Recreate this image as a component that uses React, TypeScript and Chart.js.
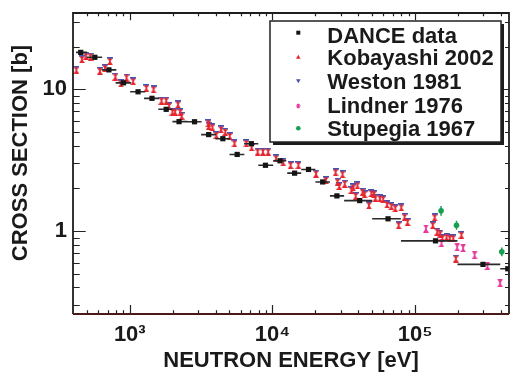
import React, { useEffect, useRef } from 'react';
import { Chart, registerables } from 'chart.js';

Chart.register(...registerables);

const FONT = "'Liberation Sans', Arial, Helvetica, sans-serif";

// axis ranges and ticks
const X_MIN = 400;
const X_MAX = 455000;
const Y_MIN = 0.26;
const Y_MAX = 34.5;
const X_TICK_VALUES = [1000, 10000, 100000];
const X_TICK_LABELS = ['10³', '10⁴', '10⁵'];
const Y_TICK_VALUES = [1, 10];
const Y_TICK_LABELS = ['1', '10'];
const X_TITLE = 'NEUTRON ENERGY [eV]';
const Y_TITLE = 'CROSS SECTION [b]';
const LEGEND_LABELS = ['DANCE data', 'Kobayashi 2002', 'Weston 1981', 'Lindner 1976', 'Stupegia 1967'];

// DANCE data (energy in eV, cross section in b, energy bin edges)
const DANCE_E = [453, 569, 714, 904, 1143, 1431, 1800, 2215, 2844, 3573, 4493, 5661, 7112, 8935, 11300, 14300, 17900, 22500, 28300, 40900, 64600, 139000, 299000, 446000];
const DANCE_XS = [18.2, 16.8, 13.7, 11.1, 9.6, 8.63, 7.22, 5.91, 5.9, 4.79, 4.48, 3.47, 4.13, 2.91, 3.13, 2.56, 2.72, 2.22, 1.77, 1.64, 1.22, 0.853, 0.582, 0.542];
const DANCE_E_LO = [420, 502, 635, 796, 1006, 1259, 1585, 1991, 2529, 3162, 3981, 5000, 6324, 7958, 10120, 12700, 15900, 20000, 25300, 31800, 50000, 79600, 198000, 395000];
const DANCE_E_HI = [502, 640, 805, 1023, 1285, 1607, 1991, 2529, 3184, 4018, 5058, 6353, 7958, 10120, 12500, 15900, 20000, 25300, 31800, 50000, 79400, 198000, 395000, 560000];

// Kobayashi 2002
const KOBAYASHI_E = [422, 462, 494, 531, 617, 670, 726, 792, 866, 949, 1056, 1307, 1468, 1668, 1800, 1888, 1991, 2077, 2178, 2260, 2310, 3556, 3580, 3793, 4044, 4355, 4670, 5024, 5418, 6561, 7145, 7870, 8570, 9330, 10600, 11900, 13400, 15200, 20200, 23700, 27700, 28600, 29400, 31000, 32100, 35800, 36900, 38300, 39400, 42800, 44200, 47500, 49400, 51400, 52700, 56600, 59700, 63600, 68100, 72600, 76700, 80000, 84400, 88500, 133000, 137000, 143000, 150000, 155000, 166000, 175000, 185000, 193000, 211000];
const KOBAYASHI_XS = [13.7, 16.3, 17.2, 17.0, 13.5, 14.1, 15.8, 12.3, 11.0, 12.1, 11.4, 10.2, 10.0, 8.32, 8.32, 7.63, 6.95, 6.95, 7.83, 6.9, 6.5, 5.76, 5.53, 5.40, 4.76, 5.22, 5.02, 4.68, 4.16, 4.16, 3.90, 3.63, 3.63, 3.63, 3.26, 3.06, 2.92, 2.92, 2.54, 2.29, 2.60, 2.23, 2.08, 2.52, 2.16, 1.95, 2.03, 1.77, 2.10, 1.89, 1.82, 1.52, 1.85, 1.82, 1.72, 1.70, 1.68, 1.54, 1.50, 1.45, 1.10, 1.47, 1.26, 1.16, 1.10, 1.25, 0.99, 0.96, 0.89, 0.91, 0.89, 0.89, 0.64, 0.94];

// Weston 1981
const WESTON_E = [422, 462, 494, 531, 617, 670, 726, 792, 866, 949, 1056, 1307, 1468, 1668, 1800, 1888, 1991, 2077, 2178, 2260, 2310, 3556, 3580, 3793, 4044, 4355, 4670, 5024, 5418, 6561, 7145, 7870, 8570, 9330, 10600, 11900, 13400, 15200, 20200, 23700, 27700, 28600, 29400, 31000, 32100, 35800, 36900, 38300, 39400, 42800, 44200, 47500, 49400, 51400, 52700, 56600, 59700, 63600, 68100, 72600, 76700, 80000, 84400, 88500, 133000, 137000, 143000, 150000, 155000, 166000, 175000, 185000, 193000, 211000];
const WESTON_XS = [13.7, 16.3, 17.2, 17.0, 13.5, 14.1, 15.8, 12.3, 11.0, 12.1, 11.4, 10.2, 10.0, 8.32, 8.32, 7.63, 6.95, 6.95, 7.83, 6.9, 6.5, 5.76, 5.53, 5.40, 4.76, 5.22, 5.02, 4.68, 4.16, 4.16, 3.90, 3.63, 3.63, 3.63, 3.26, 3.06, 2.92, 2.92, 2.54, 2.29, 2.60, 2.23, 2.08, 2.52, 2.16, 1.95, 2.03, 1.77, 2.10, 1.89, 1.82, 1.52, 1.85, 1.82, 1.72, 1.70, 1.68, 1.54, 1.50, 1.45, 1.10, 1.47, 1.26, 1.16, 1.10, 1.25, 0.99, 0.96, 0.89, 0.91, 0.89, 0.89, 0.64, 0.94];

// Lindner 1976
const LINDNER_E = [119000, 153000, 197000, 217000, 261000, 321000, 394000];
const LINDNER_XS = [1.04, 0.82, 0.767, 0.756, 0.675, 0.566, 0.428];

// Stupegia 1967
const STUPEGIA_E = [152000, 195000, 405000];
const STUPEGIA_XS = [1.39, 1.10, 0.715];
const STUPEGIA_ERR = [0.11, 0.08, 0.05];

const RED = '#e6262e';
const BLUE = '#4452b4';
const PINK = '#e8379a';
const GREEN = '#14a050';
const BLACK = '#151515';

function makeMarker(kind: string): HTMLCanvasElement {
  const c = document.createElement('canvas');
  c.width = 6;
  c.height = 8;
  const g = c.getContext('2d') as CanvasRenderingContext2D;
  if (kind === 'weston') {
    g.fillStyle = BLUE;
    g.fillRect(0, 0, 6, 1.6);
    g.beginPath();
    g.moveTo(0, 0); g.lineTo(6, 0); g.lineTo(3, 3); g.closePath(); g.fill();
  } else {
    g.fillStyle = kind === 'kobayashi' ? RED : PINK;
    const top = kind === 'kobayashi' ? 1.4 : 0;
    g.beginPath();
    g.moveTo(0.3, top); g.lineTo(5.7, top); g.lineTo(3, 4.4); g.closePath(); g.fill();
    g.beginPath();
    g.moveTo(3, 3.6); g.lineTo(6, 8); g.lineTo(0, 8); g.closePath(); g.fill();
    g.fillRect(2.3, top, 1.4, 8 - top);
  }
  return c;
}

const decorPlugin = {
  id: 'decor',
  afterDatasetsDraw(chart: any) {
    const { ctx, chartArea: a, scales } = chart;
    const xs = scales.x;
    const ys = scales.y;
    ctx.save();
    ctx.strokeStyle = '#222';
    ctx.lineWidth = 1.2;
    ctx.beginPath();
    for (let d = 2; d <= 5; d++) {
      for (let m = 1; m <= 9; m++) {
        const v = m * Math.pow(10, d);
        if (v <= X_MIN || v >= X_MAX) continue;
        const px = Math.round(xs.getPixelForValue(v)) + 0.5;
        const major = m === 1;
        const lb = major ? 9 : 3.7;
        const lt = major ? 7.3 : 3.3;
        ctx.moveTo(px, a.bottom); ctx.lineTo(px, a.bottom - lb);
        ctx.moveTo(px, a.top); ctx.lineTo(px, a.top + lt);
      }
    }
    for (let d = -1; d <= 1; d++) {
      for (let m = 1; m <= 9; m++) {
        const v = m * Math.pow(10, d);
        if (v <= Y_MIN || v >= Y_MAX) continue;
        const py = Math.round(ys.getPixelForValue(v)) + 0.5;
        const major = m === 1;
        const ll = major ? 12.7 : 6.7;
        const lr = major ? 8.3 : 4;
        ctx.moveTo(a.left, py); ctx.lineTo(a.left + ll, py);
        ctx.moveTo(a.right, py); ctx.lineTo(a.right - lr, py);
      }
    }
    ctx.stroke();
    ctx.lineWidth = 1.8;
    ctx.strokeStyle = '#1e1e1e';
    ctx.beginPath();
    ctx.moveTo(a.left, a.bottom); ctx.lineTo(a.left, a.top); ctx.lineTo(a.right, a.top); ctx.lineTo(a.right, a.bottom);
    ctx.stroke();
    ctx.strokeStyle = '#4a1a1a';
    ctx.beginPath();
    ctx.moveTo(a.left, a.bottom); ctx.lineTo(a.right, a.bottom);
    ctx.stroke();
    ctx.restore();
  },
  afterDraw(chart: any) {
    const { ctx } = chart;
    ctx.save();
    // y-axis title
    ctx.translate(21, 153);
    ctx.rotate(-Math.PI / 2);
    ctx.font = `bold 22px ${FONT}`;
    ctx.fillStyle = '#1a1a1a';
    ctx.textAlign = 'center';
    ctx.textBaseline = 'middle';
    ctx.fillText(Y_TITLE, 0, 0);
    ctx.restore();

    // legend box
    ctx.save();
    const bx = 270, by = 21, bw = 231, bh = 121;
    ctx.fillStyle = '#1c1c1c';
    ctx.fillRect(bx + 3, by + 3, bw, bh);
    ctx.fillStyle = '#ffffff';
    ctx.fillRect(bx, by, bw, bh);
    ctx.strokeStyle = '#222';
    ctx.lineWidth = 1.5;
    ctx.strokeRect(bx, by, bw, bh);
    const mx = 298.3;
    const my = [32.7, 57.3, 80.7, 106, 128.3];
    const base = [42.5, 64.5, 89, 113, 136];
    // markers
    ctx.fillStyle = BLACK;
    ctx.fillRect(mx - 2, my[0] - 2, 4, 4);
    ctx.fillStyle = RED;
    ctx.beginPath();
    ctx.moveTo(mx, my[1] - 2.5); ctx.lineTo(mx + 2.3, my[1] + 1.5); ctx.lineTo(mx - 2.3, my[1] + 1.5); ctx.closePath(); ctx.fill();
    ctx.fillStyle = BLUE;
    ctx.beginPath();
    ctx.moveTo(mx, my[2] + 2.5); ctx.lineTo(mx + 2.3, my[2] - 1.5); ctx.lineTo(mx - 2.3, my[2] - 1.5); ctx.closePath(); ctx.fill();
    ctx.strokeStyle = PINK;
    ctx.lineWidth = 1.1;
    ctx.beginPath();
    for (let k = 0; k < 3; k++) {
      const ang = (k * Math.PI) / 3;
      ctx.moveTo(mx - 2.3 * Math.cos(ang), my[3] - 2.3 * Math.sin(ang));
      ctx.lineTo(mx + 2.3 * Math.cos(ang), my[3] + 2.3 * Math.sin(ang));
    }
    ctx.moveTo(mx, my[3] - 2.3); ctx.lineTo(mx, my[3] + 2.3);
    ctx.stroke();
    ctx.fillStyle = GREEN;
    ctx.beginPath();
    ctx.arc(mx, my[4], 2.3, 0, Math.PI * 2);
    ctx.fill();
    // labels
    ctx.font = `bold 22px ${FONT}`;
    ctx.fillStyle = '#1a1a1a';
    ctx.textAlign = 'left';
    ctx.textBaseline = 'alphabetic';
    LEGEND_LABELS.forEach((t, i) => ctx.fillText(t, 327.3, base[i]));
    ctx.restore();
  },
};

export default function App() {
  const ref = useRef<HTMLCanvasElement | null>(null);

  useEffect(() => {
    if (!ref.current) return;
    const kob = makeMarker('kobayashi');
    const wes = makeMarker('weston');
    const lin = makeMarker('lindner');

    const pts = (e: number[], y: number[]) => e.map((v, i) => ({ x: v, y: y[i] }));
    const danceBars: any[] = [];
    DANCE_E.forEach((_, i) => {
      danceBars.push({ x: DANCE_E_LO[i], y: DANCE_XS[i] }, { x: DANCE_E_HI[i], y: DANCE_XS[i] }, { x: DANCE_E_HI[i], y: null });
    });
    const stupBars: any[] = [];
    STUPEGIA_E.forEach((e, i) => {
      stupBars.push({ x: e, y: STUPEGIA_XS[i] - STUPEGIA_ERR[i] }, { x: e, y: STUPEGIA_XS[i] + STUPEGIA_ERR[i] }, { x: e, y: null });
    });

    const tickFont = { family: FONT, size: 22, weight: 'bold' as const };

    const chart = new Chart(ref.current, {
      type: 'scatter',
      data: {
        datasets: [
          { label: LEGEND_LABELS[0], data: pts(DANCE_E, DANCE_XS), pointStyle: 'rect', pointRadius: 3.7, backgroundColor: BLACK, borderColor: BLACK, borderWidth: 0 },
          { label: 'DANCE bins', data: danceBars, showLine: true, spanGaps: false, borderColor: '#2a2a2a', borderWidth: 1.6, pointRadius: 0 },
          { label: LEGEND_LABELS[1], data: pts(KOBAYASHI_E, KOBAYASHI_XS), pointStyle: kob, pointRadius: 4, backgroundColor: RED, borderColor: RED },
          { label: LEGEND_LABELS[2], data: pts(WESTON_E, WESTON_XS), pointStyle: wes, pointRadius: 4, backgroundColor: BLUE, borderColor: BLUE },
          { label: LEGEND_LABELS[3], data: pts(LINDNER_E, LINDNER_XS), pointStyle: lin, pointRadius: 4, backgroundColor: PINK, borderColor: PINK },
          { label: LEGEND_LABELS[4], data: pts(STUPEGIA_E, STUPEGIA_XS), pointStyle: 'circle', pointRadius: 2.8, backgroundColor: GREEN, borderColor: GREEN, borderWidth: 0 },
          { label: 'Stupegia err', data: stupBars, showLine: true, spanGaps: false, borderColor: GREEN, borderWidth: 1.5, pointRadius: 0 },
        ] as any,
      },
      options: {
        animation: false,
        responsive: false,
        devicePixelRatio: 1,
        events: [],
        layout: { padding: { top: 13, right: 1, left: 0, bottom: 0 } },
        plugins: { legend: { display: false }, tooltip: { enabled: false }, title: { display: false } },
        scales: {
          x: {
            type: 'logarithmic',
            min: X_MIN,
            max: X_MAX,
            grid: { display: false, drawTicks: false },
            border: { display: false },
            afterBuildTicks: (s: any) => { s.ticks = X_TICK_VALUES.map((v) => ({ value: v })); },
            afterFit: (s: any) => { s.height = 58; s.paddingLeft = 0; s.paddingRight = 0; },
            ticks: {
              autoSkip: false,
              maxRotation: 0,
              padding: 8,
              color: '#1a1a1a',
              font: tickFont,
              callback: (v: any) => X_TICK_LABELS[X_TICK_VALUES.indexOf(Number(v))] ?? '',
            },
            title: {
              display: true,
              text: X_TITLE,
              color: '#1a1a1a',
              font: { family: FONT, size: 22, weight: 'bold', lineHeight: 1 },
              padding: { top: 0, bottom: 0.5 },
            },
          },
          y: {
            type: 'logarithmic',
            min: Y_MIN,
            max: Y_MAX,
            grid: { display: false, drawTicks: false },
            border: { display: false },
            afterBuildTicks: (s: any) => { s.ticks = Y_TICK_VALUES.map((v) => ({ value: v })); },
            afterFit: (s: any) => { s.width = 73; s.paddingTop = 0; s.paddingBottom = 0; },
            ticks: {
              autoSkip: false,
              padding: 6,
              color: '#1a1a1a',
              font: tickFont,
              callback: (v: any) => Y_TICK_LABELS[Y_TICK_VALUES.indexOf(Number(v))] ?? '',
            },
          },
        },
      } as any,
      plugins: [decorPlugin],
    });
    return () => chart.destroy();
  }, []);

  return (
    <div style={{ position: 'fixed', left: 0, top: 0, width: 514, height: 372, background: '#fff' }}>
      <canvas ref={ref} width={514} height={372} style={{ display: 'block' }} />
    </div>
  );
}
